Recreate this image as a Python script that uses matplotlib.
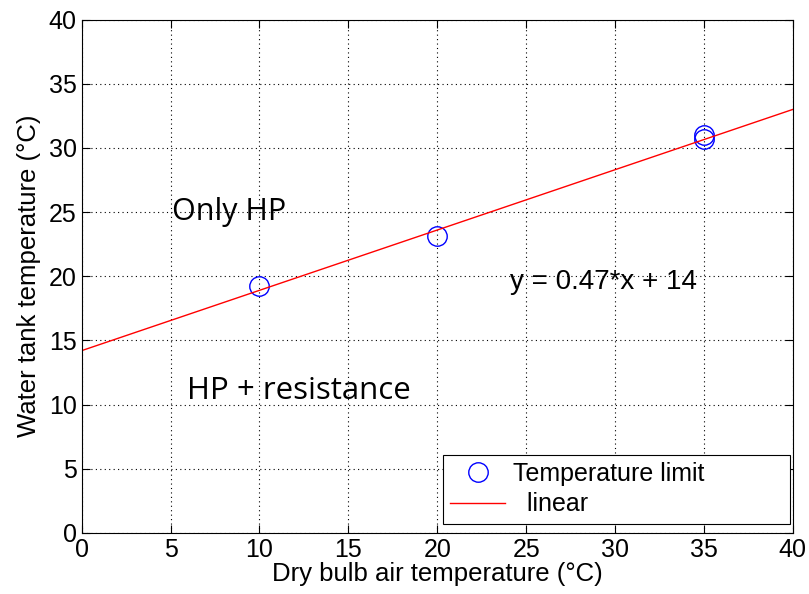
import matplotlib
matplotlib.use("Agg")
import matplotlib.pyplot as plt

# Measured temperature limits
air_temp = [10, 20, 35, 35]
tank_temp = [19.2, 23.1, 30.7, 31.0]

# Linear fit shown on the chart
slope = 0.47
intercept = 14.2
x_fit = [0, 40]

xticks = [0, 5, 10, 15, 20, 25, 30, 35, 40]
yticks = [0, 5, 10, 15, 20, 25, 30, 35, 40]

plt.rcParams['font.family'] = ['Liberation Sans', 'DejaVu Sans']

fig = plt.figure(figsize=(8.09, 5.94), dpi=100)
ax = fig.add_axes([0.101, 0.103, 0.879, 0.864])

ax.plot(air_temp, tank_temp, linestyle='none', marker='o', markersize=14,
        markerfacecolor='none', markeredgecolor='blue', markeredgewidth=1.0,
        label="Temperature limit")
y_fit = [slope * x + intercept for x in x_fit]
ax.plot(x_fit, y_fit, color='red', linewidth=1.0, label="  linear")

ax.set_xlim(0, 40)
ax.set_ylim(0, 40)
ax.set_xticks(xticks)
ax.set_yticks(yticks)
ax.tick_params(direction='in', top=True, right=True, labelsize=18, length=6)
ax.grid(True, color='black', linestyle=(0, (1, 3)), linewidth=0.8)

ax.set_xlabel("Dry bulb air temperature (°C)", fontsize=18.5, labelpad=0)
ax.set_ylabel("Water tank temperature (°C)", fontsize=18.5, labelpad=6)

ax.text(5.06, 24.4, "Only HP", fontsize=22, family='Open Sans', va='baseline')
ax.text(5.9, 10.4, "HP + resistance", fontsize=22.5, family='Open Sans', va='baseline')
ax.text(24.08, 19.0, "y = 0.47*x + 14", fontsize=20, va='baseline')

leg = ax.legend(loc='lower left', bbox_to_anchor=(0.508, 0.0175, 0.488, 0.134),
                mode='expand', fontsize=18, fancybox=False, framealpha=1,
                edgecolor='black', borderaxespad=0, borderpad=0.3,
                labelspacing=0.25, handlelength=2.2, handletextpad=0.3)
leg.get_frame().set_linewidth(0.8)

plt.savefig("out.png", dpi=100)
